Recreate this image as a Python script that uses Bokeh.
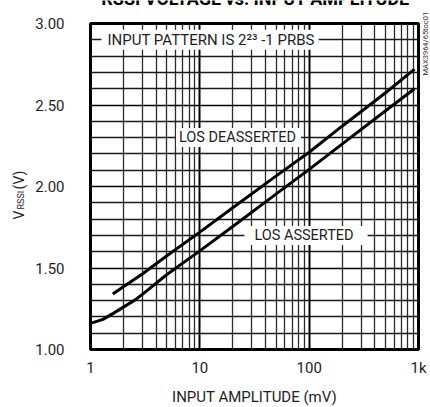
import math
from bokeh.plotting import figure
from bokeh.models import Range1d, FixedTicker, Label
from bokeh.embed import file_html
from bokeh.resources import INLINE

# ---- data ----
amp_deasserted = [1.6, 2, 3, 5, 10, 20, 50, 100, 200, 500, 920]
v_deasserted = [1.34, 1.385, 1.465, 1.575, 1.72, 1.87, 2.065, 2.21, 2.37, 2.575, 2.72]
amp_asserted = [1.0, 1.3, 1.6, 2, 2.5, 3, 5, 10, 20, 50, 100, 200, 500, 920]
v_asserted = [1.16, 1.185, 1.22, 1.26, 1.30, 1.34, 1.46, 1.605, 1.755, 1.955, 2.105, 2.26, 2.465, 2.60]

x_ticks = [1, 10, 100, 1000]
x_tick_labels = ["1", "10", "100", "1k"]
x_minor = [2, 3, 4, 5, 6, 7, 8, 9, 20, 30, 40, 50, 60, 70, 80, 90,
           200, 300, 400, 500, 600, 700, 800, 900]
y_ticks = [1.0, 1.5, 2.0, 2.5, 3.0]
y_tick_labels = ["1.00", "1.50", "2.00", "2.50", "3.00"]
y_minor = [1.1, 1.2, 1.3, 1.4, 1.6, 1.7, 1.8, 1.9, 2.1, 2.2, 2.3, 2.4,
           2.6, 2.7, 2.8, 2.9]

TITLE = "RSSI VOLTAGE vs. INPUT AMPLITUDE"
XLABEL = "INPUT AMPLITUDE (mV)"
NOTE = "INPUT PATTERN IS 2\u00b2\u00b3 -1 PRBS"
LBL_DE = "LOS DEASSERTED"
LBL_AS = "LOS ASSERTED"
SIDE = "MAX3964/65toc01"

FONT = "Roboto"
TXT = "#1e1e1e"

PAGE_W, PAGE_H = 430, 407
LEFT = 8                       # page x of the main figure
PL, PR, PT, PB = 90, 418, 23, 349   # frame edges on the page
W = PAGE_W - LEFT
H = PAGE_H


def dx(px):
    return 10 ** ((px - PL) * 3.0 / (PR - PL))


p = figure(width=W, height=H, x_axis_type="log", title=None,
           x_range=Range1d(1, 1000), y_range=Range1d(1, 3),
           output_backend="svg", toolbar_location=None,
           min_border_left=PL - LEFT, min_border_right=W - (PR - LEFT),
           min_border_top=PT, min_border_bottom=H - PB)
p.styles = {"position": "absolute", "left": f"{LEFT}px", "top": "0px"}
p.background_fill_color = "white"
p.border_fill_color = "white"
p.outline_line_color = "black"
p.outline_line_width = 3

p.xaxis.ticker = FixedTicker(ticks=x_ticks, minor_ticks=x_minor)
p.yaxis.ticker = FixedTicker(ticks=y_ticks, minor_ticks=y_minor)
p.xaxis.major_label_overrides = {t: l for t, l in zip(x_ticks, x_tick_labels)}
p.yaxis.major_label_overrides = {t: l for t, l in zip(y_ticks, y_tick_labels)}

for ax in (p.xaxis, p.yaxis):
    ax.axis_line_color = None
    ax.major_tick_line_color = None
    ax.minor_tick_line_color = None
    ax.major_tick_out = 0
    ax.major_tick_in = 0
    ax.minor_tick_out = 0
    ax.minor_tick_in = 0
    ax.major_label_text_font = FONT
    ax.major_label_text_font_size = "15px"
    ax.major_label_text_color = TXT
p.xaxis.major_label_standoff = 9
p.yaxis.major_label_standoff = 26

p.xgrid.grid_line_color = "black"
p.xgrid.grid_line_width = 2
p.xgrid.minor_grid_line_color = "#2a2a2a"
p.xgrid.minor_grid_line_width = 1.3
p.ygrid.grid_line_color = "black"
p.ygrid.grid_line_width = 1.4
p.ygrid.minor_grid_line_color = "#1a1a1a"
p.ygrid.minor_grid_line_width = 1.3

p.line(amp_deasserted, v_deasserted, line_color="black", line_width=3)
p.line(amp_asserted, v_asserted, line_color="black", line_width=3)


def boxed(x, y, text, size, align, pad):
    kw = dict(x=x, y=y, text=text, text_font=FONT, text_font_size=size,
              text_color=TXT, text_align=align, text_baseline="middle",
              background_fill_color="white")
    try:
        return Label(padding=pad, **kw)
    except Exception:
        return Label(padding=3, **kw)


p.add_layout(boxed(dx(101), 2.9, NOTE, "15px", "left",
                   dict(left=6, right=4, top=1, bottom=1)))
p.add_layout(boxed(dx(238), 2.3, LBL_DE, "14.5px", "center",
                   dict(left=3, right=5, top=1, bottom=1)))
p.add_layout(boxed(dx(305.5), 1.7, LBL_AS, "14.5px", "center",
                   dict(left=10, right=14, top=1, bottom=1)))

# ---- transparent overlay for the texts that lie outside the frame ----
o = figure(width=PAGE_W, height=PAGE_H, title=None,
           x_range=Range1d(0, PAGE_W), y_range=Range1d(PAGE_H, 0),
           output_backend="svg", toolbar_location=None,
           x_axis_location=None, y_axis_location=None,
           min_border=0, min_border_left=0, min_border_right=0,
           min_border_top=0, min_border_bottom=0)
o.styles = {"position": "absolute", "left": "0px", "top": "0px"}
o.background_fill_color = None
o.border_fill_color = None
o.outline_line_color = None
o.grid.visible = False

ang = math.pi / 2
o.add_layout(Label(x=255, y=-2, text=TITLE, text_font=FONT, text_font_style="bold",
                   text_font_size="18px", text_align="center",
                   text_baseline="alphabetic", text_color="black"))
o.add_layout(Label(x=254, y=396, text=XLABEL, text_font=FONT, text_font_size="15px",
                   text_align="center", text_baseline="middle", text_color=TXT))
o.add_layout(Label(x=18.5, y=219, text="V", text_font=FONT, text_font_size="14px",
                   angle=ang, text_align="left", text_baseline="alphabetic",
                   text_color=TXT))
o.add_layout(Label(x=20.5, y=209, text="RSSI", text_font=FONT, text_font_size="9px",
                   angle=ang, text_align="left", text_baseline="alphabetic",
                   text_color=TXT))
o.add_layout(Label(x=18, y=189, text="(V)", text_font=FONT, text_font_size="14px",
                   angle=ang, text_align="left", text_baseline="alphabetic",
                   text_color=TXT))
o.add_layout(Label(x=424.5, y=75, text=SIDE, text_font=FONT, text_font_size="7.5px",
                   angle=ang, text_align="left", text_baseline="middle",
                   text_color="#333333"))

open("out.html", "w").write(file_html([p, o], INLINE))
